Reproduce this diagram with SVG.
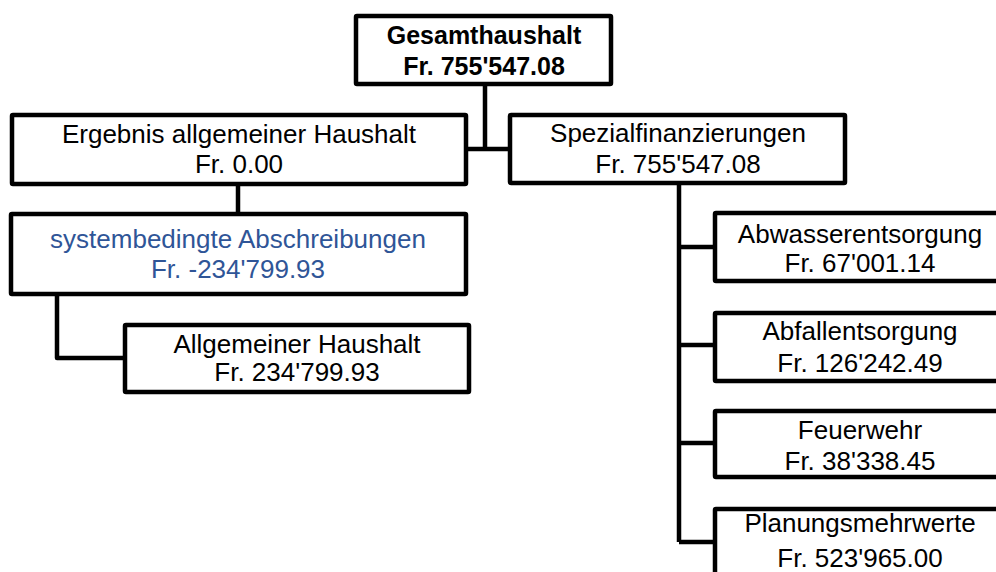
<svg xmlns="http://www.w3.org/2000/svg" width="996" height="572" viewBox="0 0 996 572">
<style>
.box{fill:#fff;stroke:#000;stroke-width:4.5;stroke-linejoin:round}
.c{fill:none;stroke:#000;stroke-width:4.5;stroke-linejoin:round}
text{font-family:"Liberation Sans",Arial,sans-serif;font-size:26px;text-anchor:middle;fill:#000}
.b{font-weight:bold;font-size:25px}
.blue{fill:#2F5597}
</style>
<rect width="996" height="572" fill="#fff"/>
<g id="connectors">
<path class="c" d="M485 86V149M468 149H508"/>
<path class="c" d="M238 186V212"/>
<path class="c" d="M57 296V358H123"/>
<path class="c" d="M679 185V542M679 247H713M679 345H713M679 443H713M679 542H713"/>
</g>
<g id="gesamthaushalt">
<rect class="box" x="356" y="16" width="255" height="68" rx="1"/>
<text class="b" x="484" y="44">Gesamthaushalt</text>
<text class="b" x="484" y="75">Fr. 755'547.08</text>
</g>
<g id="ergebnis">
<rect class="box" x="12" y="115" width="454" height="69" rx="1"/>
<text x="239" y="143">Ergebnis allgemeiner Haushalt</text>
<text x="239" y="173">Fr. 0.00</text>
</g>
<g id="spezial">
<rect class="box" x="510" y="115" width="335" height="68" rx="1"/>
<text x="678" y="142">Spezialfinanzierungen</text>
<text x="678" y="173">Fr. 755'547.08</text>
</g>
<g id="systembedingt">
<rect class="box" x="11" y="214" width="455" height="80" rx="1"/>
<text class="blue" x="238" y="248">systembedingte Abschreibungen</text>
<text class="blue" x="238" y="278">Fr. -234'799.93</text>
</g>
<g id="allgemeiner">
<rect class="box" x="125" y="325" width="344" height="67" rx="1"/>
<text x="297" y="353">Allgemeiner Haushalt</text>
<text x="297" y="381">Fr. 234'799.93</text>
</g>
<g id="abwasser">
<rect class="box" x="715" y="213" width="300" height="68" rx="1"/>
<text x="860" y="243">Abwasserentsorgung</text>
<text x="860" y="272">Fr. 67'001.14</text>
</g>
<g id="abfall">
<rect class="box" x="715" y="313" width="300" height="68" rx="1"/>
<text x="860" y="340">Abfallentsorgung</text>
<text x="860" y="372">Fr. 126'242.49</text>
</g>
<g id="feuerwehr">
<rect class="box" x="715" y="411" width="300" height="66" rx="1"/>
<text x="860" y="439">Feuerwehr</text>
<text x="860" y="470">Fr. 38'338.45</text>
</g>
<g id="planung">
<rect class="box" x="715" y="509" width="300" height="80" rx="1"/>
<text x="860" y="532">Planungsmehrwerte</text>
<text x="860" y="567">Fr. 523'965.00</text>
</g>
</svg>
